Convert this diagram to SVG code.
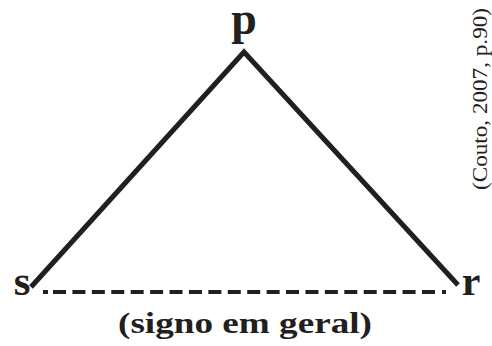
<svg xmlns="http://www.w3.org/2000/svg" width="492" height="346" viewBox="0 0 492 346">
<style>
.lbl{font-family:'Liberation Serif','DejaVu Serif','Times New Roman',serif;font-weight:bold;fill:#231f20}
.src{font-family:'Liberation Serif','DejaVu Serif','Times New Roman',serif;fill:#231f20}
.edge{stroke:#231f20;stroke-width:5;fill:none}
.dash{stroke:#231f20;stroke-width:4;fill:none}
</style>
<rect width="492" height="346" fill="#fff"/>
<g id="connectors">
<polyline class="edge" points="31,287 244,52 458,285" stroke-linejoin="miter"/>
<line class="dash" x1="43" y1="292" x2="48" y2="292"/>
<line class="dash" x1="53" y1="292" x2="436" y2="292" stroke-dasharray="13 6.42"/>
<line class="dash" x1="442" y1="292" x2="446" y2="292"/>
</g>
<g id="node-p"><text class="lbl" x="244" y="34" font-size="46" text-anchor="middle">p</text></g>
<g id="node-s"><text class="lbl" x="22" y="295" font-size="43" text-anchor="middle">s</text></g>
<g id="node-r"><text class="lbl" x="471" y="295" font-size="42" text-anchor="middle">r</text></g>
<g id="caption"><text class="lbl" x="118" y="333" font-size="30" textLength="254" lengthAdjust="spacingAndGlyphs">(signo em geral)</text></g>
<g id="source"><text class="src" x="0" y="0" transform="translate(487,99) rotate(-90)" font-size="20" text-anchor="middle" textLength="182" lengthAdjust="spacingAndGlyphs">(Couto, 2007, p.90)</text></g>
</svg>
